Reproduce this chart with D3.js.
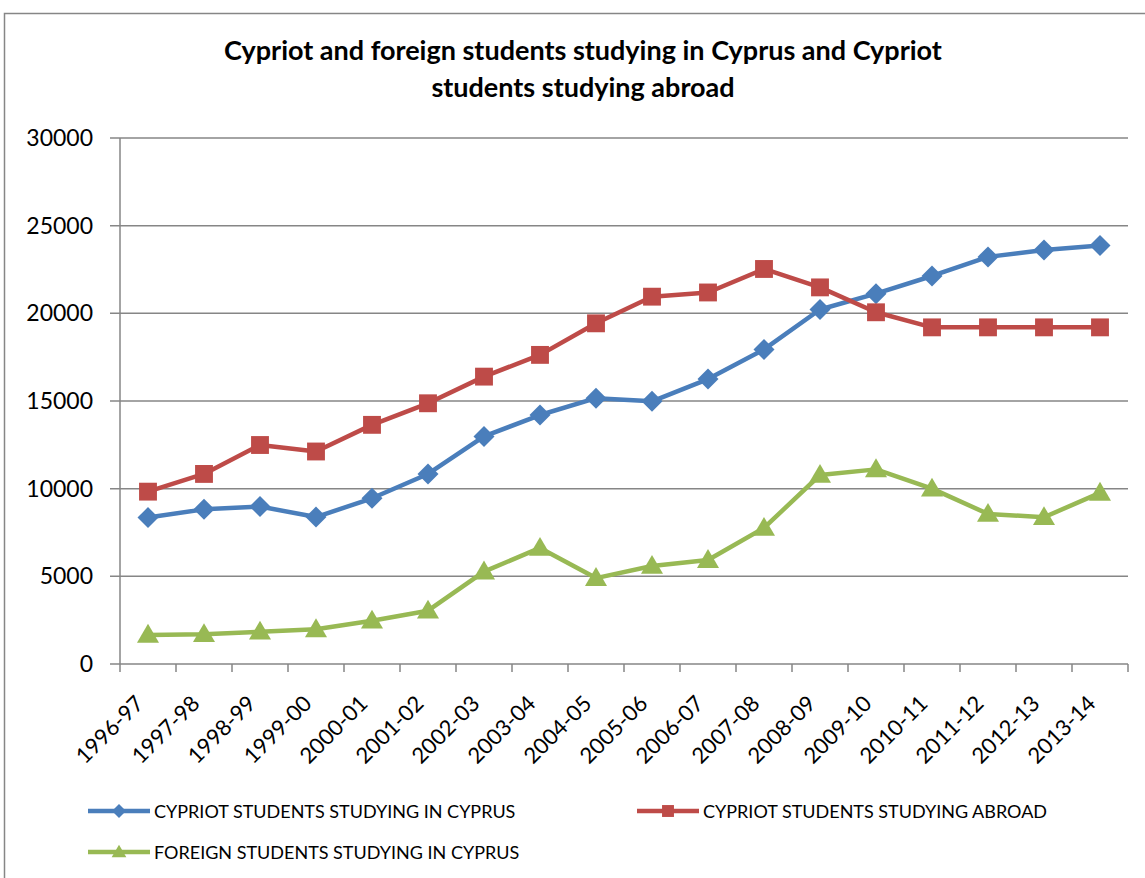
<!DOCTYPE html>
<html>
<head>
<meta charset="utf-8">
<script src="https://d3js.org/d3.v7.min.js"></script>
<style>
  body { margin: 0; background: #fff; }
  text { font-family: Lato, "Open Sans", sans-serif; }
</style>
</head>
<body>
<div id="chart"></div>
<script>
// data
var years = ["1996-97","1997-98","1998-99","1999-00","2000-01","2001-02","2002-03","2003-04","2004-05",
             "2005-06","2006-07","2007-08","2008-09","2009-10","2010-11","2011-12","2012-13","2013-14"];
var inCyprus = [8350,8820,8980,8380,9450,10840,12980,14200,15160,14980,16250,17940,20220,21120,22130,23220,23610,23870];
var abroad   = [9830,10840,12490,12120,13640,14870,16390,17630,19430,20950,21190,22530,21480,20060,19200,19200,19200,19200];
var foreign  = [1660,1700,1840,1980,2470,3040,5270,6620,4900,5590,5930,7760,10780,11100,10000,8560,8370,9760];
var yTicks = [0,5000,10000,15000,20000,25000,30000];
var seriesNames = ["CYPRIOT STUDENTS STUDYING IN CYPRUS","CYPRIOT STUDENTS STUDYING ABROAD","FOREIGN STUDENTS STUDYING IN CYPRUS"];

var W = 1145, H = 878;
var margin = {top: 138, left: 120, right: 17, bottom: 214};
var width = W - margin.left - margin.right,
    height = H - margin.top - margin.bottom;

var svg = d3.select("#chart").append("svg").attr("width", W).attr("height", H);

// chart frame
svg.append("rect").attr("x", 4.5).attr("y", 13.5).attr("width", W + 10).attr("height", H)
    .attr("fill", "none").attr("stroke", "#868686").attr("stroke-width", 1.5);

// title
var title = svg.append("text").attr("text-anchor", "middle").attr("font-weight", "bold")
    .attr("font-size", 27).attr("fill", "#000");
title.append("tspan").attr("x", 583).attr("y", 60).text("Cypriot and foreign students studying in Cyprus and Cypriot");
title.append("tspan").attr("x", 583).attr("y", 97).text("students studying abroad");

var g = svg.append("g").attr("transform", "translate(" + margin.left + "," + margin.top + ")");

var x = d3.scaleBand().domain(years).range([0, width]);
var y = d3.scaleLinear().domain([0, 30000]).range([height, 0]);

// gridlines
g.append("g").selectAll("line").data(yTicks).enter().append("line")
    .attr("x1", -10).attr("x2", width)
    .attr("y1", function(d) { return y(d); }).attr("y2", function(d) { return y(d); })
    .attr("stroke", "#868686").attr("stroke-width", 1.5);

// y axis
var yAxis = g.append("g").call(d3.axisLeft(y).tickValues(yTicks).tickFormat(d3.format("d")).tickSize(0).tickPadding(27));
yAxis.select(".domain").remove();
yAxis.selectAll("text").attr("font-size", 23).attr("fill", "#000")
    .style("font-family", "Lato, 'Open Sans', sans-serif");
g.append("line").attr("x1", 0).attr("x2", 0).attr("y1", 0).attr("y2", height)
    .attr("stroke", "#868686").attr("stroke-width", 1.5);

// x axis with ticks on band edges
var xa = g.append("g").attr("transform", "translate(0," + height + ")");
var edges = years.map(function(d) { return x(d); }).concat([width]);
xa.selectAll("line").data(edges).enter().append("line")
    .attr("x1", function(d) { return d; }).attr("x2", function(d) { return d; })
    .attr("y1", 0).attr("y2", 8).attr("stroke", "#868686").attr("stroke-width", 1.5);
xa.selectAll("text").data(years).enter().append("text")
    .attr("transform", function(d) { return "translate(" + (x(d) + x.bandwidth() / 2 - 3) + ",41) rotate(-45)"; })
    .attr("text-anchor", "end").attr("font-size", 22).attr("fill", "#000")
    .text(function(d) { return d; });

var colors = ["#4A7EBB", "#BE4B48", "#98B954"];
var all = [inCyprus, abroad, foreign];

var line = d3.line()
    .x(function(d, i) { return x(years[i]) + x.bandwidth() / 2; })
    .y(function(d) { return y(d); });

function marker(sel, k, s) {
    if (k == 0) sel.append("path").attr("d", "M0,-" + s + "L" + s + ",0L0," + s + "L-" + s + ",0Z");
    else if (k == 1) sel.append("rect").attr("x", -s * 0.85).attr("y", -s * 0.85).attr("width", s * 1.7).attr("height", s * 1.7);
    else sel.append("path").attr("d", "M0," + (-s * 1.05) + "L" + (s * 1.05) + "," + (s * 0.75) + "L" + (-s * 1.05) + "," + (s * 0.75) + "Z");
}

all.forEach(function(vals, k) {
    g.append("path").datum(vals).attr("fill", "none").attr("stroke", colors[k])
        .attr("stroke-width", 4.5).attr("stroke-linejoin", "round").attr("d", line);
    var m = g.append("g").attr("fill", colors[k]);
    vals.forEach(function(v, i) {
        var p = m.append("g").attr("transform", "translate(" + (x(years[i]) + x.bandwidth() / 2) + "," + y(v) + ")");
        marker(p, k, 10.5);
    });
});

// legend
var legPos = [[88, 811], [637, 811], [88, 852]];
seriesNames.forEach(function(name, k) {
    var lg = svg.append("g").attr("transform", "translate(" + legPos[k][0] + "," + legPos[k][1] + ")");
    lg.append("line").attr("x1", 0).attr("x2", 62).attr("stroke", colors[k]).attr("stroke-width", 4.5);
    var mk = lg.append("g").attr("transform", "translate(31,0)").attr("fill", colors[k]);
    marker(mk, k, 7);
    lg.append("text").attr("x", 66).attr("y", 6.5).attr("font-size", 18).attr("fill", "#000").text(name);
});
</script>
</body>
</html>
